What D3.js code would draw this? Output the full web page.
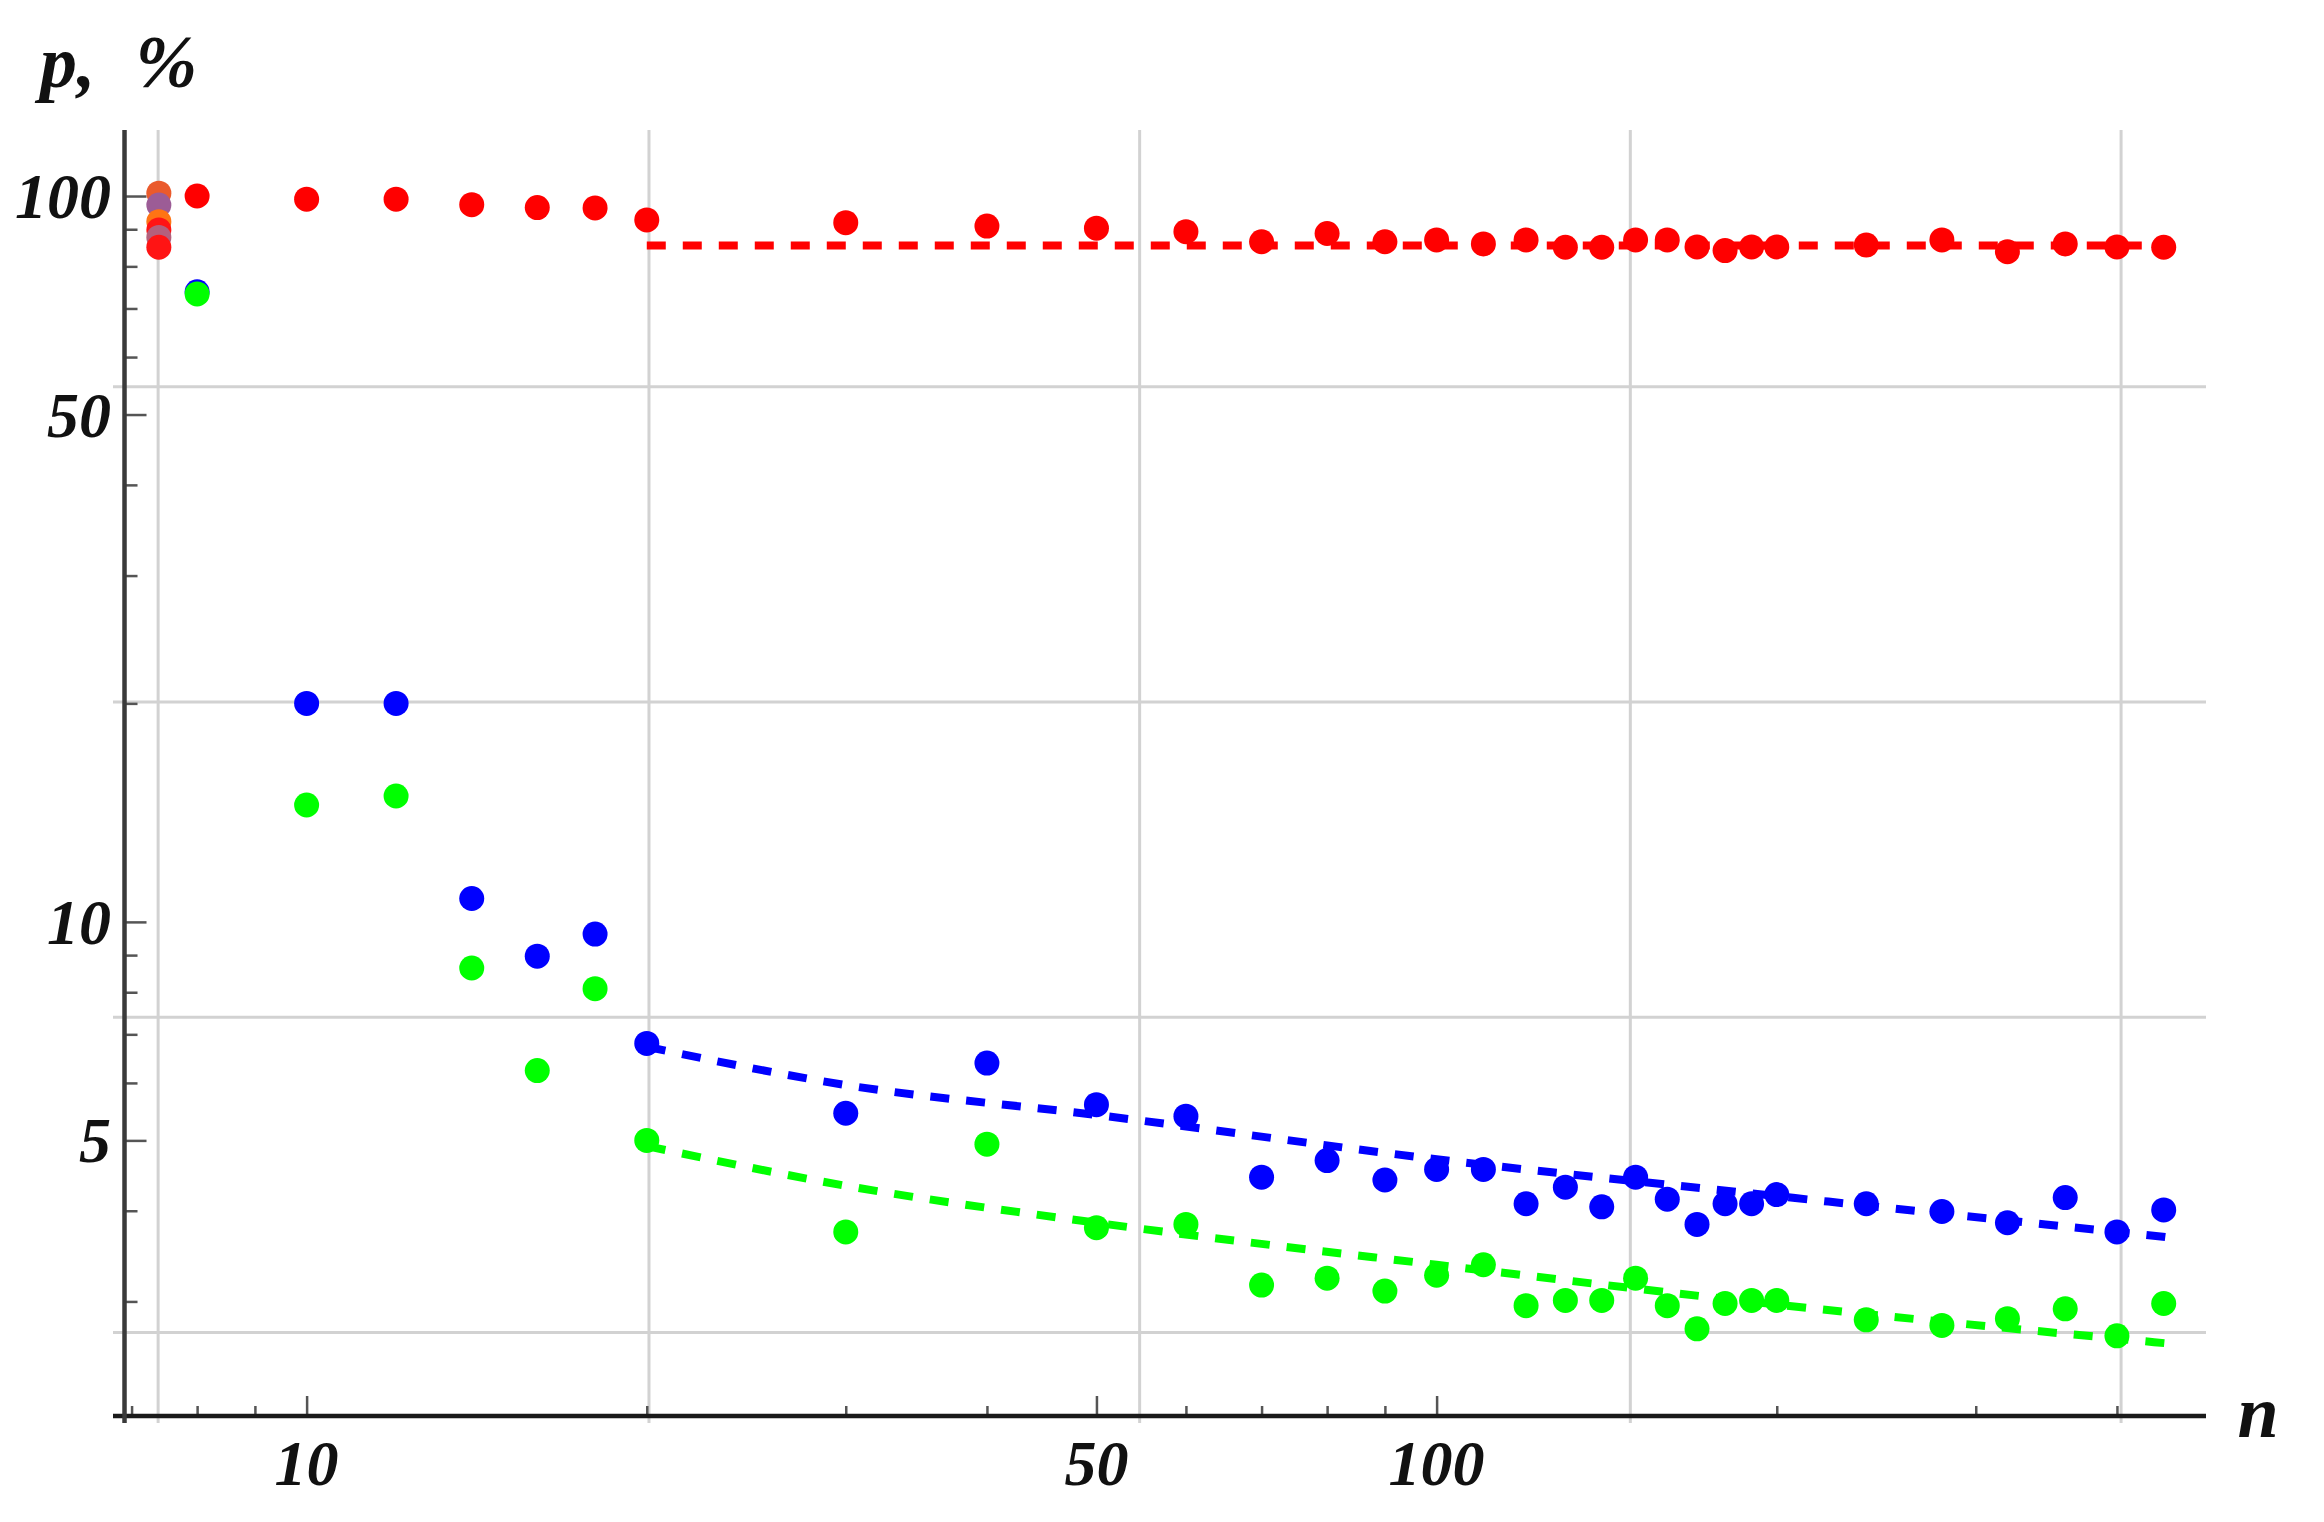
<!DOCTYPE html>
<html>
<head>
<meta charset="utf-8">
<script src="https://cdn.jsdelivr.net/npm/d3@7"></script>
<style>
  html, body { margin: 0; padding: 0; background: #fff; }
  svg { display: block; }
  .lbl { font-family: "Liberation Serif", "DejaVu Serif", serif; font-weight: bold; font-style: italic; fill: #111; }
</style>
</head>
<body>
<svg id="chart" width="2324" height="1522"></svg>
<script>
// ---------------- data ----------------
const nValues = [8, 10, 12, 14, 16, 18, 20, 30, 40, 50, 60, 70, 80, 90, 100, 110, 120, 130, 140, 150, 160, 170, 180, 190, 200, 240, 280, 320, 360, 400, 440];
const redP   = [100, 99.0, 99.0, 97.3, 96.4, 96.3, 92.7, 91.9, 90.9, 90.3, 89.3, 86.5, 88.8, 86.5, 87.0, 85.9, 87.0, 85.0, 85.0, 87.0, 87.0, 85.1, 84.1, 85.1, 85.1, 85.6, 87.0, 83.8, 85.9, 85.1, 85.0];
const blueP  = [73.8, 20.0, 20.0, 10.77, 8.97, 9.62, 6.80, 5.45, 6.39, 5.60, 5.40, 4.45, 4.69, 4.41, 4.56, 4.56, 4.09, 4.31, 4.05, 4.45, 4.15, 3.83, 4.09, 4.09, 4.21, 4.09, 3.99, 3.85, 4.17, 3.74, 4.01];
const greenP = [73.3, 14.49, 14.91, 8.64, 6.24, 8.09, 5.00, 3.74, 4.94, 3.79, 3.83, 3.16, 3.23, 3.10, 3.26, 3.37, 2.96, 3.01, 3.01, 3.23, 2.96, 2.75, 2.98, 3.01, 3.01, 2.83, 2.78, 2.84, 2.93, 2.69, 2.98];

// overlapping points at the smallest n (blended colours)
const clusterN = 7.4;
const clusterP = [100.9, 97.2, 92.2, 89.8, 87.7, 85.0];
const clusterKind = ["orange", "purple", "orange2", "red", "mauve", "red"];

// fitted (dashed) curves
const redFitN   = [20, 450];
const redFitP   = [85.5, 85.5];
const blueFitN  = [20, 30, 50, 100, 200, 450];
const blueFitP  = [6.73, 5.96, 5.42, 4.71, 4.19, 3.67];
const greenFitN = [20, 30, 50, 100, 200, 450];
const greenFitP = [4.91, 4.33, 3.85, 3.37, 2.97, 2.62];

// axes
const xDomain = [6.74, 479.6];
const yDomain = [2.04, 123.3];
const xAxisAt = 2.086;   // p value where the n axis is drawn
const yAxisAt = 6.90;    // n value where the p axis is drawn
const xTickLabels = [10, 50, 100];
const xMinorTicks = [7, 8, 9, 20, 30, 40, 60, 70, 80, 90, 200, 300, 400];
const yTickLabels = [5, 10, 50, 100];
const yMinorTicks = [3, 4, 6, 7, 8, 9, 20, 30, 40, 60, 70, 80, 90];
const gridX = [7.389, 20.09, 54.60, 148.4, 403.4];
const gridY = [2.718, 7.389, 20.09, 54.60];

// ---------------- drawing ----------------
const colors = { red: "#ff0000", blue: "#0000ff", green: "#00ff00" };
const clusterColors = { orange: "#ea5a2c", purple: "#9c5c96", orange2: "#ff7414", red: "#ff1414", mauve: "#b4607c" };

const svg = d3.select("#chart");
svg.append("rect").attr("width", 2324).attr("height", 1522).attr("fill", "#fff");

const x = d3.scaleLog().domain(xDomain).range([113, 2206]);
const y = d3.scaleLog().domain(yDomain).range([1423, 130]);

// grid
const grid = svg.append("g");
grid.selectAll(".gx").data(gridX).join("line")
  .attr("x1", d => x(d)).attr("x2", d => x(d))
  .attr("y1", y(yDomain[1])).attr("y2", y(yDomain[0]))
  .attr("stroke", "#d2d2d2").attr("stroke-width", 3);
grid.selectAll(".gy").data(gridY).join("line")
  .attr("y1", d => y(d)).attr("y2", d => y(d))
  .attr("x1", x(xDomain[0])).attr("x2", x(xDomain[1]))
  .attr("stroke", "#d2d2d2").attr("stroke-width", 3);

// axes with d3 axis generators
const xAxisY = y(xAxisAt);
const yAxisX = x(yAxisAt);

const xMajor = d3.axisTop(x).tickValues(xTickLabels).tickSize(20).tickFormat("");
const xMinor = d3.axisTop(x).tickValues(xMinorTicks).tickSize(10).tickFormat("");
const yMajor = d3.axisRight(y).tickValues(yTickLabels).tickSize(22).tickFormat("");
const yMinor = d3.axisRight(y).tickValues(yMinorTicks).tickSize(13).tickFormat("");

function styleAxis(g) {
  g.select(".domain").remove();
  g.selectAll(".tick line").attr("stroke", "#555").attr("stroke-width", 2.5);
}
svg.append("g").attr("transform", `translate(0,${xAxisY})`).call(xMinor).call(styleAxis);
svg.append("g").attr("transform", `translate(0,${xAxisY})`).call(xMajor).call(styleAxis);
svg.append("g").attr("transform", `translate(${yAxisX},0)`).call(yMinor).call(styleAxis);
svg.append("g").attr("transform", `translate(${yAxisX},0)`).call(yMajor).call(styleAxis);

// axis lines
svg.append("line").attr("x1", x(xDomain[0])).attr("x2", x(xDomain[1]))
  .attr("y1", xAxisY).attr("y2", xAxisY).attr("stroke", "#1a1a1a").attr("stroke-width", 4.5);
svg.append("line").attr("x1", yAxisX).attr("x2", yAxisX)
  .attr("y1", y(yDomain[1])).attr("y2", y(yDomain[0])).attr("stroke", "#3a3a3a").attr("stroke-width", 4.5);

// tick labels
svg.append("g").selectAll("text").data(xTickLabels).join("text")
  .attr("class", "lbl").attr("x", d => x(d)).attr("y", 1485)
  .attr("text-anchor", "middle").attr("font-size", 64).text(d => d);
svg.append("g").selectAll("text").data(yTickLabels).join("text")
  .attr("class", "lbl").attr("x", 111).attr("y", d => y(d) + 22)
  .attr("text-anchor", "end").attr("font-size", 64).text(d => d);

// axis titles
const t = svg.append("text").attr("class", "lbl").attr("x", 40).attr("y", 87).attr("font-size", 74);
t.append("tspan").text("p,");
t.append("tspan").attr("dx", 40).text("%");
svg.append("text").attr("class", "lbl").attr("x", 2258).attr("y", 1437)
  .attr("text-anchor", "middle").attr("font-size", 74).text("n");

// dashed fits
const line = d3.line().x(d => x(d[0])).y(d => y(d[1])).curve(d3.curveMonotoneX);
const fits = [
  { n: redFitN, p: redFitP, c: colors.red },
  { n: blueFitN, p: blueFitP, c: colors.blue },
  { n: greenFitN, p: greenFitP, c: colors.green }
];
svg.append("g").selectAll("path").data(fits).join("path")
  .attr("d", f => line(f.n.map((v, i) => [v, f.p[i]])))
  .attr("fill", "none").attr("stroke", f => f.c)
  .attr("stroke-width", 8).attr("stroke-dasharray", "19 17");

// points
const R = 12.5;
const series = [
  { p: redP, c: colors.red },
  { p: blueP, c: colors.blue },
  { p: greenP, c: colors.green }
];
series.forEach(s => {
  svg.append("g").selectAll("circle").data(nValues.map((n, i) => [n, s.p[i]])).join("circle")
    .attr("cx", d => x(d[0])).attr("cy", d => y(d[1])).attr("r", R).attr("fill", s.c);
});
svg.append("g").selectAll("circle").data(clusterP.map((p, i) => [clusterN, p, clusterKind[i]])).join("circle")
  .attr("cx", d => x(d[0])).attr("cy", d => y(d[1])).attr("r", R)
  .attr("fill", d => clusterColors[d[2]]);
</script>
</body>
</html>
